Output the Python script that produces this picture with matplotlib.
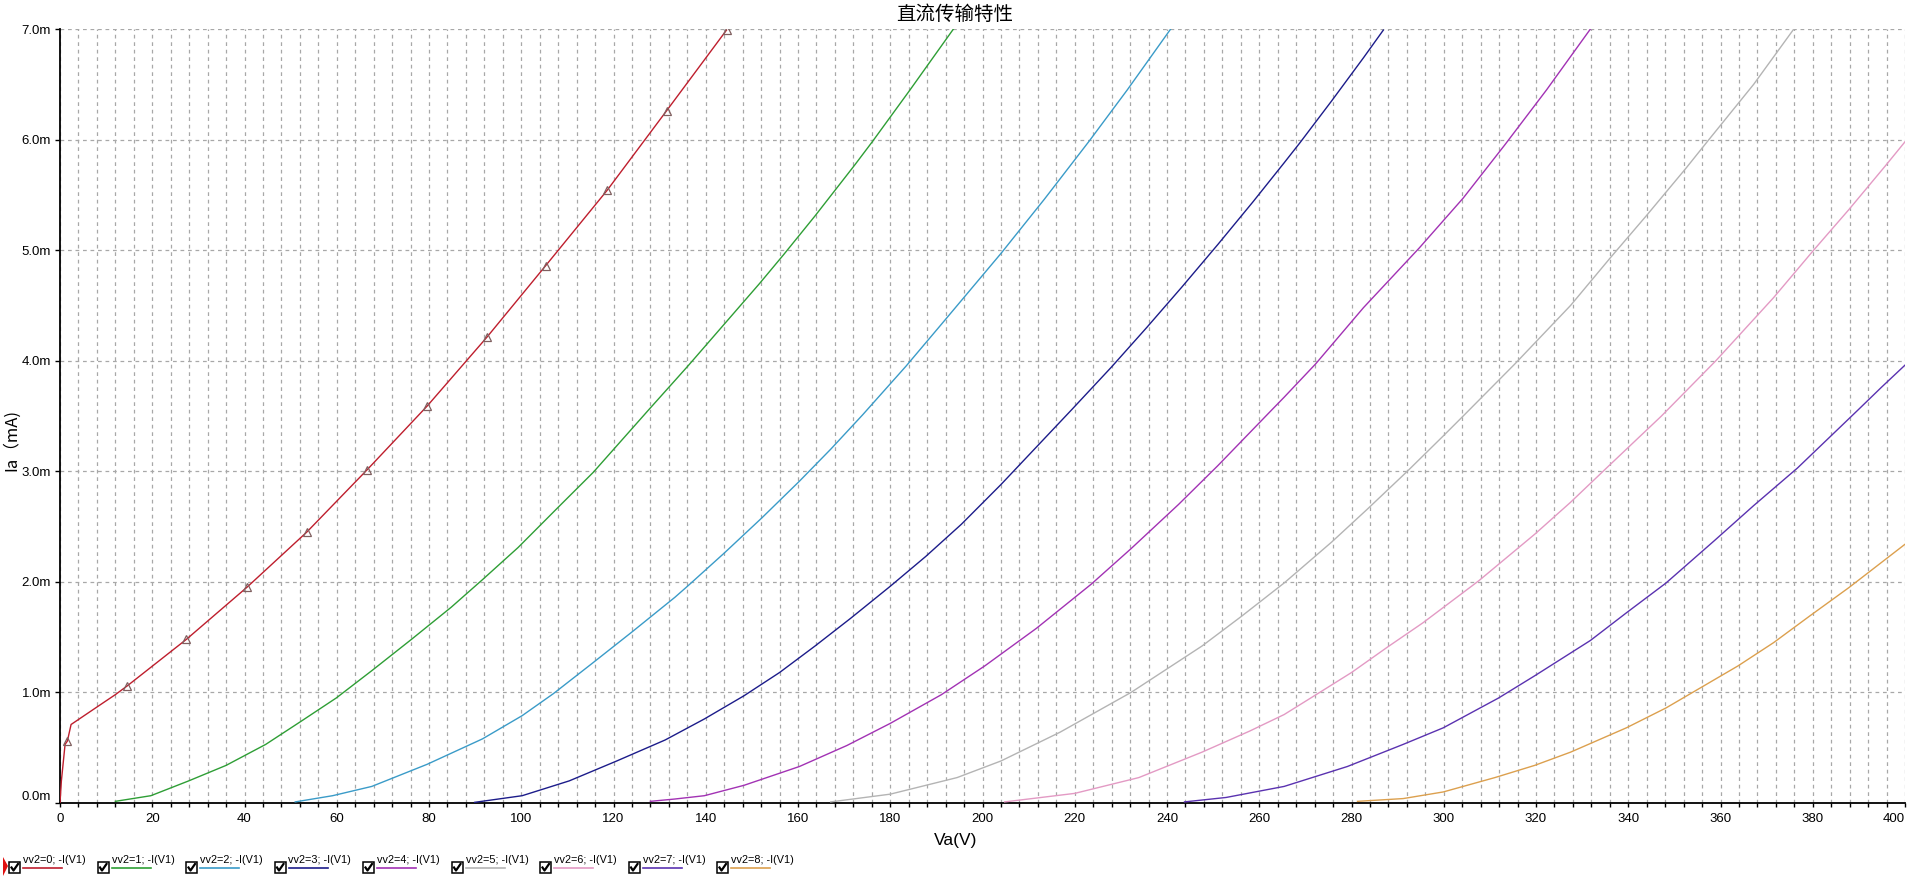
import matplotlib
matplotlib.use("Agg")
import matplotlib.pyplot as plt
from matplotlib.ticker import MultipleLocator, FuncFormatter
from matplotlib.lines import Line2D
from matplotlib.patches import Rectangle, Polygon

# curves, Va in volts, Ia in mA
va0 = [0, 0.3, 1.1, 1.6, 2.4, 9.5, 12.0, 14.6, 27.4, 40.5, 53.5, 66.5, 79.6, 92.5, 105.3, 118.6, 131.5, 144.5]
ia0 = [0, 0.2, 0.53, 0.56, 0.71, 0.91, 0.98, 1.06, 1.48, 1.95, 2.45, 3.01, 3.59, 4.21, 4.86, 5.54, 6.26, 6.99]

va1 = [12.0, 19.7, 27.9, 36.0, 44.6, 52.3, 59.9, 67.7, 76.2, 84.8, 91.6, 99.3, 107.9, 115.6, 127.5, 133.3,
       136.3, 144.0, 151.7, 156.9, 163.7, 172.3, 176.1, 184.3, 193.7]
ia1 = [0.015, 0.066, 0.2, 0.34, 0.53, 0.74, 0.95, 1.2, 1.48, 1.77, 2.02, 2.31, 2.67, 2.99, 3.55, 3.82,
       3.96, 4.33, 4.70, 4.96, 5.31, 5.77, 5.98, 6.45, 7.0]

va2 = [51.0, 59.1, 67.6, 79.6, 91.6, 100.2, 107.0, 115.6, 124.1, 133.3, 136.3, 144.0, 152.2, 160.3, 167.1,
       174.0, 183.4, 191.1, 204.0, 213.4, 223.2, 231.4, 240.8]
ia2 = [0.01, 0.066, 0.15, 0.35, 0.58, 0.79, 0.99, 1.27, 1.55, 1.86, 1.97, 2.26, 2.58, 2.91, 3.20,
       3.51, 3.95, 4.33, 4.97, 5.46, 5.99, 6.45, 7.0]

va3 = [89.9, 100.2, 110.4, 120.7, 131.2, 139.7, 148.3, 156.0, 163.7, 171.4, 180.0, 187.7, 195.4, 204.0,
       219.4, 227.9, 235.6, 243.3, 251.0, 258.7, 265.4, 268.8, 275.7, 282.6, 286.9]
ia3 = [0.006, 0.066, 0.2, 0.38, 0.57, 0.76, 0.97, 1.18, 1.42, 1.67, 1.96, 2.23, 2.52, 2.88,
       3.56, 3.94, 4.30, 4.67, 5.05, 5.44, 5.79, 5.97, 6.35, 6.74, 6.99]

va4 = [128.0, 133.3, 139.7, 148.3, 160.3, 170.6, 180.0, 191.1, 200.5, 211.7, 223.6, 232.2, 242.5, 251.0,
       262.6, 265.4, 272.2, 282.6, 294.7, 304.2, 313.2, 322.3, 331.8]
ia4 = [0.015, 0.036, 0.066, 0.16, 0.33, 0.52, 0.72, 0.98, 1.24, 1.58, 1.98, 2.30, 2.70, 3.05,
       3.55, 3.67, 3.97, 4.48, 5.02, 5.47, 5.95, 6.45, 7.0]

va5 = [167.1, 180.0, 194.5, 204.0, 216.8, 232.2, 247.6, 256.2, 265.4, 275.7, 283.5, 292.1, 299.9,
       304.7, 315.4, 327.5, 336.1, 343.9, 352.5, 357.3, 367.2, 375.9]
ia5 = [0.01, 0.08, 0.23, 0.38, 0.64, 1.0, 1.42, 1.69, 1.99, 2.36, 2.66, 3.0, 3.32,
       3.52, 3.97, 4.50, 4.93, 5.31, 5.74, 5.99, 6.50, 7.0]

va6 = [204.8, 220.0, 233.9, 247.6, 257.9, 265.4, 273.1, 280.0, 287.8, 295.5, 307.6, 319.7, 327.5, 335.3,
       347.2, 359.0, 371.5, 380.2, 387.9, 395.7, 400.0]
ia6 = [0.01, 0.087, 0.23, 0.46, 0.65, 0.8, 1.0, 1.18, 1.41, 1.63, 2.01, 2.43, 2.72, 3.03,
       3.5, 4.0, 4.57, 5.0, 5.37, 5.76, 5.98]

va7 = [243.8, 252.8, 265.4, 279.1, 291.2, 299.9, 311.9, 319.7, 331.8, 339.6, 348.2, 358.6, 367.2, 376.7,
       389.7, 394.9, 400.0]
ia7 = [0.01, 0.05, 0.15, 0.33, 0.53, 0.68, 0.95, 1.15, 1.47, 1.72, 1.99, 2.37, 2.69, 3.03,
       3.55, 3.76, 3.96]

va8 = [281.3, 291.2, 299.9, 311.1, 319.7, 327.5, 339.6, 348.2, 356.0, 363.8, 371.5, 379.3, 387.9, 400.0]
ia8 = [0.015, 0.04, 0.1, 0.23, 0.34, 0.46, 0.68, 0.86, 1.05, 1.24, 1.45, 1.69, 1.95, 2.34]

# triangle markers on the first trace
mk_va = [1.6, 14.6, 27.4, 40.5, 53.5, 66.5, 79.6, 92.5, 105.3, 118.6, 131.5, 144.5]
mk_ia = [0.56, 1.06, 1.48, 1.95, 2.45, 3.01, 3.59, 4.21, 4.86, 5.54, 6.26, 6.99]

curves = [(va0, ia0), (va1, ia1), (va2, ia2), (va3, ia3), (va4, ia4),
          (va5, ia5), (va6, ia6), (va7, ia7), (va8, ia8)]
labels = ["vv2=%d; -I(V1)" % i for i in range(9)]
colors = ["#BE1E2D", "#2E9E35", "#3A9BC8", "#1C1C8A", "#A232B4",
          "#B4B4B4", "#E39AC4", "#5A32B0", "#DCA04E"]

W, H = 1910, 885
fig = plt.figure(figsize=(W / 100, H / 100), dpi=100)
ax = fig.add_axes([60 / W, 82 / H, 1845 / W, 774 / H])

for (x, y), c in zip(curves, colors):
    ax.plot(x, y, color=c, lw=1.0, zorder=3)
ax.plot(mk_va, mk_ia, ls="none", marker="^", ms=6, mfc="none", mec="#806060", mew=0.9, zorder=4)

ax.set_xlim(0, 400)
ax.set_ylim(0, 7.0)
ax.set_xticks(range(0, 401, 20))
ax.xaxis.set_minor_locator(MultipleLocator(4))
ax.set_yticks([0, 1, 2, 3, 4, 5, 6, 7])
ax.yaxis.set_major_formatter(FuncFormatter(lambda v, p: "%.1fm" % v))

grid_kw = dict(color="#A8A8A8", lw=0.9, ls=(0, (3, 3)))
ax.xaxis.grid(True, which="both", **grid_kw)
ax.yaxis.grid(True, which="major", **grid_kw)
ax.set_axisbelow(True)

for s in ("top", "right"):
    ax.spines[s].set_visible(False)
for s in ("left", "bottom"):
    ax.spines[s].set_linewidth(1.3)

ax.tick_params(axis="x", which="both", length=3, width=1, pad=4, labelsize=9.5)
ax.tick_params(axis="y", which="major", length=3.5, width=1, pad=3, labelsize=9.5)
for lab in ax.get_xticklabels() + ax.get_yticklabels():
    lab.set_family("Liberation Sans")
ax.yaxis.get_major_ticks()[0].label1.set_verticalalignment("bottom")
ax.xaxis.get_major_ticks()[-1].label1.set_horizontalalignment("right")

cjk = ["Noto Sans CJK SC", "DejaVu Sans"]
fig.text(955 / W, 1 - 14 / H, "直流传输特性", ha="center", va="center", fontsize=14, family=cjk)
fig.text(11 / W, 1 - 440 / H, "Ia（mA)", ha="center", va="center", rotation=90, fontsize=12, family=cjk)
fig.text(956 / W, 1 - 840 / H, "Va(V)", ha="center", va="center", fontsize=12.5, family="Liberation Sans")


def px(x, y):
    return x / W, 1 - y / H


# legend row: checkbox, label, colour sample
for i, (lab, c) in enumerate(zip(labels, colors)):
    x0 = 9 + 88.5 * i
    bx, by = px(x0, 873)
    fig.add_artist(Rectangle((bx, by), 11 / W, 11 / H, transform=fig.transFigure,
                             fill=False, ec="black", lw=1.1))
    ck = [px(x0 + 2.5, 867.5), px(x0 + 4.5, 870.5), px(x0 + 9, 864)]
    fig.add_artist(Line2D([p[0] for p in ck], [p[1] for p in ck], transform=fig.transFigure,
                          color="black", lw=1.6))
    tx, ty = px(x0 + 14, 860)
    fig.text(tx, ty, lab, ha="left", va="center", fontsize=7.8, family="Liberation Sans")
    l0, ly = px(x0 + 14, 868)
    l1, _ = px(x0 + 53, 868)
    fig.add_artist(Line2D([l0, l1], [ly, ly], transform=fig.transFigure, color=c, lw=1.2))

# red cursor mark at the left edge of the legend
fig.add_artist(Polygon([px(3, 857), px(8, 866), px(3, 876)], closed=True,
                       transform=fig.transFigure, color="#E01010", lw=0))

fig.savefig("out.png", dpi=100)
